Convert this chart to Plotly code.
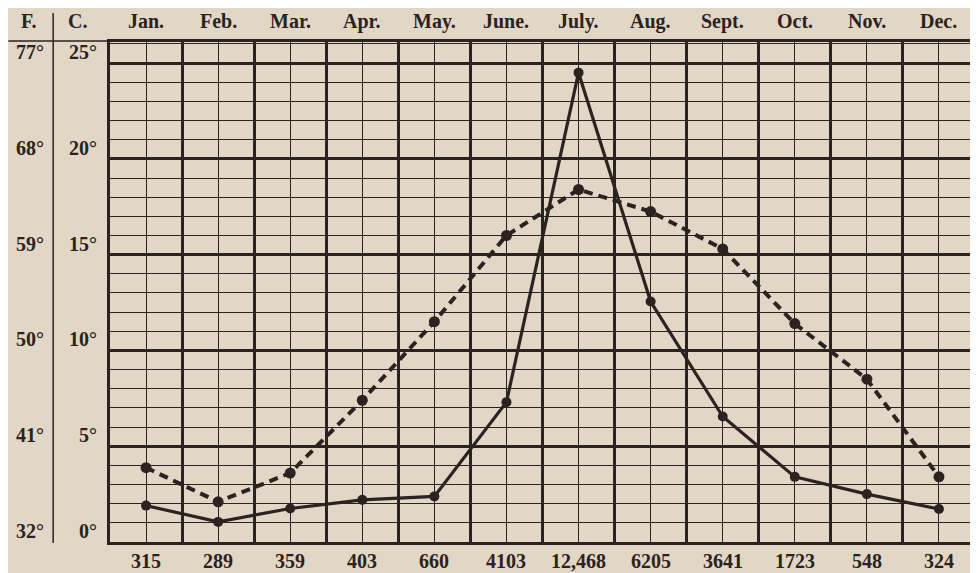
import plotly.graph_objects as go

# ---- data ----
months = ["Jan.", "Feb.", "Mar.", "Apr.", "May.", "June.", "July.", "Aug.", "Sept.", "Oct.", "Nov.", "Dec."]
counts = ["315", "289", "359", "403", "660", "4103", "12,468", "6205", "3641", "1723", "548", "324"]
cases_curve = [1.9, 1.05, 1.75, 2.2, 2.38, 7.3, 24.5, 12.55, 6.55, 3.4, 2.5, 1.72]
temp_curve = [3.88, 2.1, 3.6, 7.4, 11.5, 16.0, 18.4, 17.25, 15.3, 11.4, 8.5, 3.4]
celsius_ticks = [0, 5, 10, 15, 20, 25]
fahrenheit_ticks = ["32°", "41°", "50°", "59°", "68°", "77°"]

x_pos = [i + 0.5 for i in range(len(months))]

INK = "#2b2320"
BG = "#e2d6c6"
FONT = "Liberation Serif"
TXT = dict(family=FONT, size=20, color=INK, weight="bold")

fig = go.Figure()
fig.add_trace(go.Scatter(
    x=x_pos, y=temp_curve, mode="lines+markers",
    line=dict(color=INK, width=4, dash="9px,6px"),
    marker=dict(color=INK, size=11),
    hoverinfo="skip", showlegend=False,
))
fig.add_trace(go.Scatter(
    x=x_pos, y=cases_curve, mode="lines+markers",
    line=dict(color=INK, width=3.2),
    marker=dict(color=INK, size=10),
    hoverinfo="skip", showlegend=False,
))

annotations = []
for xm, m in zip(x_pos, months):
    annotations.append(dict(x=xm, y=1, xref="x", yref="paper", text=m, showarrow=False,
                            yanchor="middle", yshift=21, font=TXT))
for xm, c in zip(x_pos, counts):
    annotations.append(dict(x=xm, y=0, xref="x", yref="paper", text=c, showarrow=False,
                            yanchor="middle", yshift=-19, font=TXT))
for cv, fv in zip(celsius_ticks, fahrenheit_ticks):
    annotations.append(dict(x=0, y=cv, xref="paper", yref="y", text=f"{cv}°", showarrow=False,
                            xanchor="right", yanchor="middle", xshift=-11, yshift=11, font=TXT))
    annotations.append(dict(x=0, y=cv, xref="paper", yref="y", text=fv, showarrow=False,
                            xanchor="right", yanchor="middle", xshift=-64, yshift=11, font=TXT))
annotations.append(dict(x=0, y=1, xref="paper", yref="paper", text="F.", showarrow=False,
                        xanchor="center", yanchor="middle", xshift=-82, yshift=21, font=TXT))
annotations.append(dict(x=0, y=1, xref="paper", yref="paper", text="C.", showarrow=False,
                        xanchor="center", yanchor="middle", xshift=-33, yshift=21, font=TXT))

shapes = [
    dict(type="line", xref="paper", yref="paper", x0=-0.0657, x1=-0.0657, y0=-0.002, y1=1.058,
         line=dict(color=INK, width=1.5)),
    dict(type="line", xref="paper", yref="paper", x0=-0.1175, x1=0, y0=1.002, y1=1.002,
         line=dict(color=INK, width=1.5)),
]

# the page body has an 8px default margin: size the figure so the plot lands where the reference has it
fig.update_layout(
    width=970, height=565,
    margin=dict(l=102, r=0, t=34, b=31),
    paper_bgcolor=BG, plot_bgcolor=BG,
    annotations=annotations, shapes=shapes,
    xaxis=dict(range=[0, 12], tick0=0, dtick=1, showgrid=True, gridcolor=INK, gridwidth=2.5,
               minor=dict(tick0=0, dtick=0.5, showgrid=True, gridcolor=INK, gridwidth=1),
               showline=True, mirror=True, linecolor=INK, linewidth=3,
               showticklabels=False, ticks="", zeroline=False, fixedrange=True),
    yaxis=dict(range=[0, 26.1], tick0=0, dtick=5, showgrid=True, gridcolor=INK, gridwidth=2.5,
               minor=dict(tick0=0, dtick=1, showgrid=True, gridcolor=INK, gridwidth=1),
               showline=True, mirror=True, linecolor=INK, linewidth=3,
               showticklabels=False, ticks="", zeroline=False, fixedrange=True),
)

fig.write_html("out.html")
